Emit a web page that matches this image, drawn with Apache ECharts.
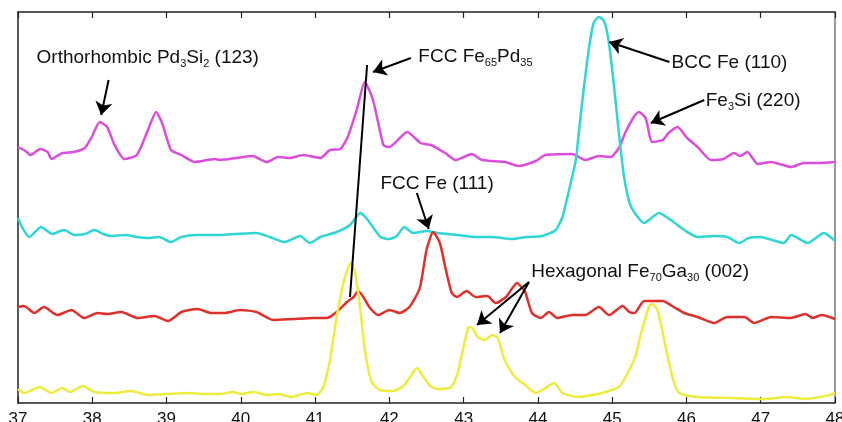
<!DOCTYPE html>
<html lang="en">
<head>
    <meta charset="UTF-8">
    <script src="https://cdn.jsdelivr.net/npm/echarts@6/dist/echarts.min.js"></script>
    <title>XRD patterns</title>
</head>
<body>
    <style>
        html, body, #main {
            margin: 0;
            width: 842px;
            height: 422px;
            background: #fff;
        }
    </style>
    <div id="main"></div>
    <script>
        // 2theta (deg), intensity (arb. units, curves offset)
        var magenta = [
            [37.0, 256], [37.1, 252], [37.17, 248], [37.3, 254], [37.4, 251], [37.45, 244], [37.6, 250],
            [37.75, 251], [37.9, 255], [38.0, 267], [38.1, 281], [38.2, 276], [38.3, 258], [38.43, 244],
            [38.6, 248], [38.75, 273], [38.86, 291], [38.95, 278], [39.06, 253], [39.2, 248], [39.38, 241],
            [39.65, 244], [39.72, 243], [39.94, 245], [40.16, 247], [40.35, 241], [40.5, 246], [40.66, 245],
            [40.84, 248], [41.07, 245], [41.2, 253], [41.34, 254], [41.44, 266], [41.56, 293], [41.67, 321],
            [41.78, 303], [41.92, 258], [42.0, 256], [42.24, 271], [42.42, 260], [42.56, 258], [42.75, 250],
            [42.89, 243], [43.11, 249], [43.25, 243], [43.56, 241], [43.74, 237], [43.97, 242], [44.1, 248],
            [44.46, 249], [44.64, 243], [44.82, 247], [44.98, 246], [45.09, 255], [45.18, 271], [45.3, 287],
            [45.36, 291], [45.45, 285], [45.54, 261], [45.68, 263], [45.76, 270], [45.88, 276], [46.01, 265],
            [46.15, 256], [46.33, 243], [46.5, 244], [46.64, 250], [46.72, 247], [46.82, 251], [46.96, 239],
            [47.14, 241], [47.41, 236], [47.58, 240], [47.77, 240], [48.0, 241]
        ];
        var cyan = [
            [37.0, 185], [37.06, 175], [37.15, 166], [37.31, 176], [37.46, 169], [37.62, 173], [37.76, 168],
            [37.9, 169], [38.03, 173], [38.15, 169], [38.25, 167], [38.45, 168], [38.6, 166], [38.75, 165],
            [38.9, 166], [39.06, 161], [39.2, 166], [39.4, 168], [39.55, 168], [39.72, 168], [39.94, 169],
            [40.21, 170], [40.39, 166], [40.59, 161], [40.8, 167], [40.93, 160], [41.07, 166], [41.29, 171],
            [41.47, 178], [41.61, 190], [41.71, 183], [41.88, 166], [42.0, 164], [42.1, 167], [42.2, 176],
            [42.32, 170], [42.5, 172], [42.65, 170], [42.93, 168], [43.15, 166], [43.38, 166], [43.65, 164],
            [43.85, 166], [44.06, 167], [44.24, 173], [44.33, 186], [44.41, 210], [44.51, 243], [44.55, 270],
            [44.62, 316], [44.69, 356], [44.75, 380], [44.82, 386], [44.89, 382], [44.95, 363], [45.02, 320],
            [45.09, 270], [45.16, 226], [45.25, 197], [45.43, 180], [45.63, 190], [45.79, 183], [45.97, 173],
            [46.15, 166], [46.37, 167], [46.55, 166], [46.71, 160], [46.84, 165], [47.0, 166], [47.15, 163],
            [47.31, 160], [47.41, 168], [47.63, 160], [47.85, 170], [48.0, 162]
        ];
        var red = [
            [37.0, 96], [37.08, 97], [37.22, 90], [37.35, 96], [37.53, 88], [37.72, 93], [37.89, 85],
            [38.07, 90], [38.2, 89], [38.39, 91], [38.61, 85], [38.84, 87], [39.02, 82], [39.2, 91],
            [39.42, 94], [39.6, 90], [39.78, 90], [39.99, 93], [40.21, 91], [40.44, 83], [40.71, 84],
            [40.98, 85], [41.16, 85], [41.29, 91], [41.43, 101], [41.52, 106], [41.58, 112], [41.65, 106],
            [41.74, 95], [41.85, 88], [42.0, 93], [42.14, 90], [42.27, 96], [42.41, 115], [42.5, 153],
            [42.59, 171], [42.68, 160], [42.77, 130], [42.84, 110], [42.91, 106], [43.04, 112], [43.16, 106],
            [43.32, 107], [43.43, 100], [43.57, 106], [43.72, 120], [43.79, 115], [43.83, 111], [43.92, 90],
            [44.04, 85], [44.15, 91], [44.26, 85], [44.46, 88], [44.64, 88], [44.82, 96], [44.96, 88],
            [45.14, 97], [45.23, 91], [45.3, 90], [45.43, 102], [45.68, 102], [45.83, 96], [45.97, 90],
            [46.15, 86], [46.37, 80], [46.55, 86], [46.78, 86], [46.91, 80], [47.14, 86], [47.4, 85],
            [47.6, 89], [47.7, 85], [47.82, 88], [48.0, 84]
        ];
        var yellow = [
            [37.0, 14], [37.08, 10], [37.29, 16], [37.45, 10], [37.6, 15], [37.7, 11], [37.87, 17],
            [38.03, 11], [38.3, 10], [38.52, 12], [38.75, 8], [39.0, 9], [39.29, 10], [39.5, 9],
            [39.72, 9], [39.9, 11], [40.0, 9], [40.17, 11], [40.35, 8], [40.5, 9], [40.68, 6],
            [40.89, 10], [41.02, 8], [41.11, 16], [41.2, 43], [41.29, 86], [41.38, 120], [41.45, 136],
            [41.48, 140], [41.54, 130], [41.61, 93], [41.67, 53], [41.76, 21], [41.87, 13], [42.05, 12],
            [42.19, 17], [42.28, 26], [42.37, 35], [42.46, 26], [42.55, 17], [42.65, 14], [42.83, 16],
            [42.92, 30], [42.99, 53], [43.06, 75], [43.1, 76], [43.19, 66], [43.28, 63], [43.39, 68],
            [43.46, 65], [43.55, 43], [43.69, 26], [43.83, 18], [43.97, 10], [44.1, 15], [44.22, 20],
            [44.33, 10], [44.55, 6], [44.73, 8], [44.91, 11], [45.09, 16], [45.18, 26], [45.31, 46],
            [45.39, 70], [45.5, 97], [45.54, 99], [45.61, 93], [45.7, 63], [45.81, 26], [45.9, 10],
            [46.15, 6], [46.6, 5], [47.05, 4], [47.36, 6], [47.6, 4], [47.93, 8], [48.0, 10]
        ];

        // annotations: [x, y, text] (left edge of text)
        var labels = [
            [37.25, 345, 'Orthorhombic Pd{s|3}Si{s|2} (123)'],
            [42.39, 346, 'FCC Fe{s|65}Pd{s|35}'],
            [45.80, 340, 'BCC Fe (110)'],
            [46.26, 302, 'Fe{s|3}Si (220)'],
            [41.88, 219, 'FCC Fe (111)'],
            [43.91, 131, 'Hexagonal Fe{s|70}Ga{s|30} (002)']
        ];
        // arrows: [from, to]
        var arrows = [
            [[38.22, 323], [38.12, 288]],
            [[42.29, 345], [41.78, 331]],
            [[45.77, 341], [44.96, 361]],
            [[46.24, 303], [45.52, 280]],
            [[42.37, 210], [42.53, 174]],
            [[43.88, 121], [43.18, 78]],
            [[43.88, 121], [43.49, 70]]
        ];
        // guide line through the FCC Fe-Pd peaks
        var guide = [[[41.70, 338], [41.47, 106]]];

        var font = '"Liberation Sans", Arial, Helvetica, sans-serif';
        var chart = echarts.init(document.getElementById('main'));

        function curve(data, color) {
            return {
                type: 'line',
                data: data,
                showSymbol: false,
                symbol: 'none',
                smooth: 0.2,
                lineStyle: { color: color, width: 2.5 },
                z: 2
            };
        }

        var tickStyle = { show: true, inside: true, length: 6, lineStyle: { color: '#222', width: 1.2 } };

        chart.setOption({
            animation: false,
            backgroundColor: '#fff',
            grid: { left: 18, right: 7, top: 12, bottom: 19, outerBoundsMode: 'none', containLabel: false },
            xAxis: [{
                type: 'value',
                min: 37,
                max: 48,
                interval: 1,
                axisLine: { show: true, onZero: false, lineStyle: { color: '#222', width: 1.5 } },
                axisTick: tickStyle,
                axisLabel: { fontSize: 17, color: '#111', fontFamily: font, margin: 8 },
                splitLine: { show: false }
            }, {
                type: 'value',
                position: 'top',
                min: 37,
                max: 48,
                interval: 1,
                axisLine: { show: true, onZero: false, lineStyle: { color: '#222', width: 1.5 } },
                axisTick: tickStyle,
                axisLabel: { show: false },
                splitLine: { show: false }
            }],
            yAxis: [{
                type: 'value',
                min: 0,
                max: 391,
                axisLine: { show: true, onZero: false, lineStyle: { color: '#222', width: 1.5 } },
                axisTick: { show: false },
                axisLabel: { show: false },
                splitLine: { show: false }
            }, {
                type: 'value',
                position: 'right',
                min: 0,
                max: 391,
                axisLine: { show: true, onZero: false, lineStyle: { color: '#777', width: 1.5 } },
                axisTick: { show: false },
                axisLabel: { show: false },
                splitLine: { show: false }
            }],
            series: [
                curve(magenta, '#dc4ddc'),
                curve(cyan, '#2ed6d6'),
                curve(red, '#e0302a'),
                curve(yellow, '#eeec3c'),
                {
                    type: 'lines',
                    coordinateSystem: 'cartesian2d',
                    data: guide.map(function (c) { return { coords: c }; }),
                    symbol: 'none',
                    lineStyle: { color: '#000', width: 2, opacity: 1 },
                    z: 5
                },
                {
                    type: 'lines',
                    coordinateSystem: 'cartesian2d',
                    data: arrows.map(function (c) { return { coords: c }; }),
                    symbol: ['none', 'arrow'],
                    symbolSize: [0, 13],
                    lineStyle: { color: '#000', width: 2, opacity: 1 },
                    z: 5
                },
                {
                    type: 'scatter',
                    data: labels,
                    symbolSize: 0,
                    silent: true,
                    itemStyle: { opacity: 1 },
                    z: 6,
                    label: {
                        show: true,
                        position: 'right',
                        distance: 0,
                        formatter: function (p) { return p.data[2]; },
                        fontFamily: font,
                        fontSize: 19,
                        color: '#111',
                        lineHeight: 22,
                        rich: {
                            s: { fontFamily: font, fontSize: 11, color: '#111', lineHeight: 10, verticalAlign: 'bottom' }
                        }
                    }
                }
            ]
        });
    </script>
</body>
</html>
